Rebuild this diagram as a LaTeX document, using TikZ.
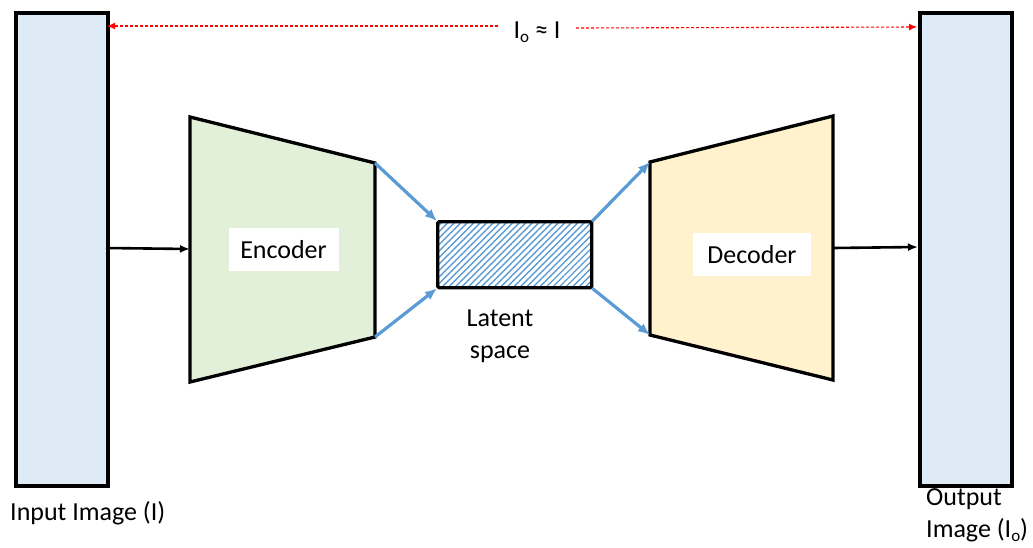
\documentclass[tikz,border=0pt]{standalone}
\usepackage{fontspec}
\setmainfont{Carlito}
\usetikzlibrary{arrows.meta,patterns.meta}
\definecolor{imgfill}{HTML}{DEEBF7}
\definecolor{encfill}{HTML}{E2F0D9}
\definecolor{decfill}{HTML}{FFF2CC}
\definecolor{accent}{HTML}{5B9BD5}
\newcommand{\lowsub}[1]{\raisebox{-0.35ex}{\fontsize{17}{17}\selectfont #1}}
\tikzset{
  imgbox/.style={draw=black,line width=4pt,fill=imgfill},
  trap/.style={draw=black,line width=3.3pt,line join=miter},
  lbl/.style={fill=white,inner sep=0pt,minimum width=110pt,minimum height=43pt,font=\fontsize{26}{30}\selectfont},
  txt/.style={font=\fontsize{26}{32}\selectfont,inner sep=0pt},
  blk/.style={draw=black,line width=2.6pt,-{Latex[length=10pt,width=8pt]}},
  blu/.style={draw=accent,line width=3.2pt,-{Latex[length=12pt,width=10pt]}},
  red/.style={draw=red,line width=1.1pt,dash pattern=on 3pt off 2pt,-{Latex[length=8pt,width=7pt]}}
}
\begin{document}
\begin{tikzpicture}[x=1pt,y=-1pt]
\useasboundingbox (0,0) rectangle (1033,547);
% image boxes
\node[imgbox,minimum width=92pt,minimum height=473pt,inner sep=0pt,anchor=north west] (inp) at (14,11) {};
\node[imgbox,minimum width=92pt,minimum height=473pt,inner sep=0pt,anchor=north west] (out) at (918,11) {};
% encoder trapezoid
\coordinate (e1) at (190,117);
\coordinate (e2) at (375,163);
\coordinate (e3) at (375,337);
\coordinate (e4) at (190,382);
\fill[encfill] (e1) -- (e2) -- (e3) -- (e4) -- cycle;
\draw[trap] (e1) -- (e2) -- (e3) -- (e4) -- cycle;
% decoder trapezoid
\coordinate (d1) at (650,162);
\coordinate (d2) at (833,116);
\coordinate (d3) at (833,380);
\coordinate (d4) at (650,335);
\fill[decfill] (d1) -- (d2) -- (d3) -- (d4) -- cycle;
\draw[trap] (d1) -- (d2) -- (d3) -- (d4) -- cycle;
% latent
\node[draw=black,line width=3.2pt,rounded corners=1.5pt,minimum width=154pt,minimum height=66pt,inner sep=0pt,anchor=north west,
  pattern={Lines[angle=45,distance=4.6pt,line width=1.4pt]},pattern color=accent] (lat) at (437,221) {};
% labels
\node[lbl] (enc) at (283.5,249.5) {Encoder};
\node[lbl,minimum width=118pt] (dec) at (752,254.5) {Decoder};
\node[txt,align=center] (lattxt) at (500,336) {Latent\\space};
\node[txt,anchor=west] (intxt) at (10,513) {Input Image (I)};
\node[txt,anchor=west,align=left] (outtxt) at (926,515) {Output\\Image (I\lowsub{o})};
\node[txt] (eq) at (537,32) {I\lowsub{o} ≈ I};
% connectors
\coordinate (a1) at (106,248);
\coordinate (a2) at (190,249);
\draw[blk] (a1) -- (a2);
\coordinate (b1) at (833,248);
\coordinate (b2) at (918,247);
\draw[blk] (b1) -- (b2);
\draw[blu] (e2) -- (lat.north west);
\draw[blu] (e3) -- (lat.south west);
\draw[blu] (lat.north east) -- (d1);
\draw[blu] (lat.south east) -- (d4);
\coordinate (r1) at (498,26);
\coordinate (r1t) at (107,26);
\coordinate (r2) at (576,28);
\coordinate (r2t) at (917,27);
\draw[red] (r1) -- (r1t);
\draw[red] (r2) -- (r2t);
\end{tikzpicture}
\end{document}
